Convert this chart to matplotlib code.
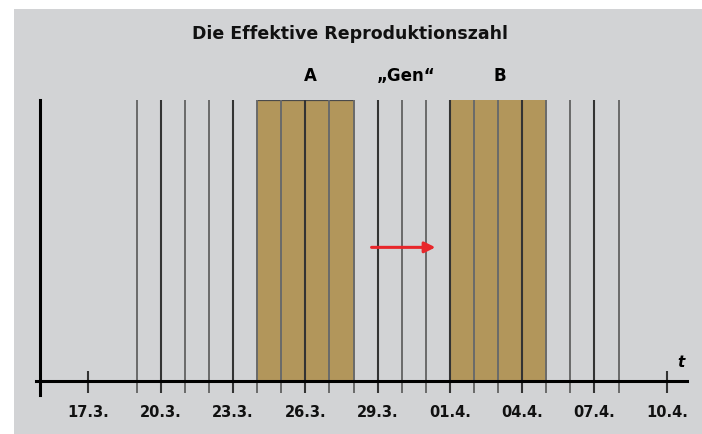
"""Die Effektive Reproduktionszahl - timeline chart."""

import matplotlib
matplotlib.use("Agg")
import matplotlib.pyplot as plt
from matplotlib import font_manager
from matplotlib.patches import Rectangle

# pick a narrow font if one is installed
installed = {f.name for f in font_manager.fontManager.ttflist}
family = "Liberation Sans Narrow" if "Liberation Sans Narrow" in installed else "DejaVu Sans"
narrow = family != "DejaVu Sans"
plt.rcParams["font.family"] = [family, "DejaVu Sans"]

# day 0 = 17.3.
tick_days = [0, 3, 6, 9, 12, 15, 18, 21, 24]
tick_labels = ["17.3.", "20.3.", "23.3.", "26.3.", "29.3.", "01.4.", "04.4.", "07.4.", "10.4."]
line_days = list(range(2, 23))
major_days = [3, 6, 9, 12, 15, 18, 21]
end_marks = [0, 24]

box_starts = [7, 15]
box_length = 4
box_names = ["A", "B"]
gen_label = "\u201eGen\u201c"
arrow_days = [11.75, 14.4]
arrow_level = 0.475

bg = "#d2d3d5"
box_color = "#b2965b"

fig = plt.figure(figsize=(7.02, 4.35), dpi=100, facecolor="white")
fig.patches.append(
    Rectangle((14 / 702, 0), 1 - 14 / 702, 425 / 435, transform=fig.transFigure,
              facecolor=bg, edgecolor="none", zorder=-10)
)

ax = fig.add_axes([35.7 / 702, 39 / 435, 651 / 702, 295 / 435])
ax.set_zorder(5)
ax.set_facecolor("none")
ax.set_xlim(-2.187, 24.826)
ax.set_ylim(-0.051, 1.0)

# boxes
ax.bar(box_starts, [1.0, 1.0], width=box_length, align="edge",
       color=box_color, edgecolor="none", zorder=1)
ax.hlines(1.0, box_starts[0], box_starts[0] + box_length, color="#4a4a4a", lw=1.6, zorder=2)

# day lines
minor = [d for d in line_days if d not in major_days]
ax.vlines(minor, -0.044, 1.0, color="#6a6a6a", lw=1.4, zorder=2)
ax.vlines(major_days, -0.044, 1.0, color="#333333", lw=1.5, zorder=2)
ax.vlines(end_marks, -0.044, 0.035, color="#333333", lw=1.5, zorder=2)

# axes
for side in ["top", "right"]:
    ax.spines[side].set_visible(False)
ax.spines["left"].set_position(("data", -2))
ax.spines["bottom"].set_position(("data", 0))
for side in ["left", "bottom"]:
    ax.spines[side].set_linewidth(2.2)
    ax.spines[side].set_color("black")
    ax.spines[side].set_zorder(3)
ax.set_yticks([])
ax.set_xticks(tick_days, tick_labels)
lab_size = 13 if narrow else 10.5
ax.tick_params(axis="x", length=0, pad=17, labelsize=lab_size)
for lab in ax.get_xticklabels():
    lab.set_fontweight("bold")
    lab.set_color("#111111")

# arrow
ax.annotate("", xy=(arrow_days[1], arrow_level), xytext=(arrow_days[0], arrow_level),
            arrowprops=dict(arrowstyle="-|>", color="#e8262a", lw=2.2, mutation_scale=16,
                            shrinkA=0, shrinkB=0), zorder=4)

# labels
top_size = 15 if narrow else 12
ax.text(box_starts[0] + box_length / 2 + 0.2, 1.071, box_names[0], ha="center", va="baseline",
        fontsize=top_size, fontweight="bold", clip_on=False)
ax.text(13.2, 1.071, gen_label, ha="center", va="baseline",
        fontsize=top_size, fontweight="bold", clip_on=False)
ax.text(box_starts[1] + box_length / 2 + 0.08, 1.071, box_names[1], ha="center", va="baseline",
        fontsize=top_size, fontweight="bold", clip_on=False)
ax.text(24.6, 0.07, "t", ha="center", va="center", fontsize=top_size - 1,
        fontweight="bold", fontstyle="italic", clip_on=False)

fig.text(350 / 702, (435 - 39) / 435, "Die Effektive Reproduktionszahl", ha="center",
         va="baseline", fontsize=16 if narrow else 12.5, fontweight="bold", color="#111111")

fig.savefig("out.png", dpi=100, facecolor="white")
plt.close(fig)
